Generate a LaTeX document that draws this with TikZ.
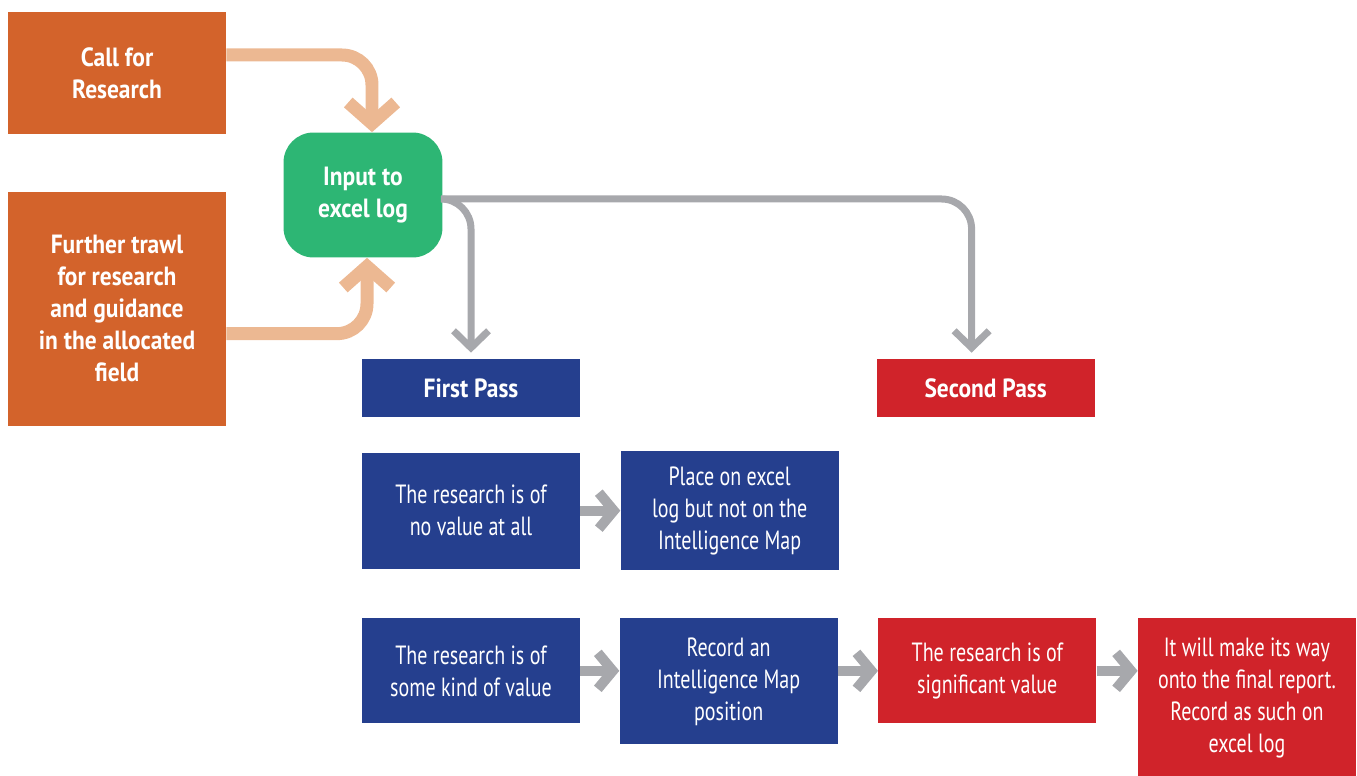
\documentclass[tikz,border=0pt]{standalone}
\usepackage{fontspec}
\setmainfont{PT Sans}[FakeStretch=0.89]
\newfontfamily\condfont{PT Sans}[FakeStretch=0.76]
\usepackage{tikz}
\usetikzlibrary{positioning, arrows.meta}

\definecolor{orangebox}{HTML}{D3632B}
\definecolor{orangeline}{HTML}{ECB892}
\definecolor{greenbox}{HTML}{2DB674}
\definecolor{bluebox}{HTML}{253F8E}
\definecolor{redbox}{HTML}{D0232A}
\definecolor{greyline}{HTML}{A7A8AC}

\begin{document}
\begin{tikzpicture}[
        x=0.02cm, y=-0.02cm,
        every node/.style={text=white},
        box/.style={
            rectangle,
            minimum width=4.36cm,
            inner sep=2pt,
            align=center,
            font=\fontsize{15}{18.2}\condfont
        },
        source/.style={box, fill=orangebox, font=\fontsize{15}{18.2}\selectfont\bfseries},
        pass/.style={box, minimum height=1.16cm, font=\fontsize{15}{18.2}\selectfont\bfseries},
        feed/.style={orangeline, line width=0.26cm, rounded corners=0.6cm,
            -{Straight Barb[length=0.42cm, width=0.95cm]}},
        route/.style={greyline, line width=0.14cm, rounded corners=0.6cm,
            -{Straight Barb[length=0.34cm, width=0.7cm]}},
        arrow/.style={greyline, line width=0.2cm,
            -{Straight Barb[length=0.3cm, width=0.72cm]}}
    ]

        \useasboundingbox (0,0) rectangle (1357,776);

        \node[source, minimum height=2.44cm] (call) at (117,73) {Call for\\ Research};

        \node[source, minimum height=4.68cm, below=1.14cm of call] (trawl)
            {Further trawl\\ for research\\ and guidance\\ in the allocated\\ field};

        \node[box, minimum width=3.18cm, minimum height=2.5cm, fill=greenbox,
            rounded corners=0.6cm, font=\fontsize{15}{18.2}\selectfont\bfseries]
            (input) at (363,195) {Input to\\ excel log};

        \node[pass, fill=bluebox] (first) at (471,388) {First Pass};
        \node[pass, fill=redbox, right=5.92cm of first] (second) {Second Pass};

        \node[box, fill=bluebox, minimum height=2.32cm, below=0.7cm of first] (noval)
            {The research is of\\ no value at all};
        \node[box, fill=bluebox, minimum height=2.38cm, right=0.8cm of noval] (place)
            {Place on excel\\ log but not on the\\ Intelligence Map};

        \node[box, fill=bluebox, minimum height=2.1cm, below=0.98cm of noval] (someval)
            {The research is of\\ some kind of value};
        \node[box, fill=bluebox, minimum height=2.52cm,
            right=0.78cm of someval.north east, anchor=north west] (record)
            {Record an\\ Intelligence Map\\ position};
        \node[box, fill=redbox, minimum height=2.1cm,
            right=0.8cm of record.north east, anchor=north west] (signif)
            {The research is of\\ significant value};
        \node[box, fill=redbox, minimum height=3.18cm,
            right=0.82cm of signif.north east, anchor=north west] (final)
            {It will make its way\\ onto the final report.\\ Record as such on\\ excel log};

        % feeds into the log
        \draw[feed] ([yshift=0.36cm]call.east) -| ([xshift=0.18cm]input.north);
        \draw[feed] ([yshift=-0.5cm]trawl.east) -| ([xshift=0.08cm]input.south);

        % log to the two passes
        \draw[route] ([yshift=-0.08cm]input.east) -| ([yshift=0.12cm]first.north);
        \draw[route] ([yshift=-0.08cm]input.east) -| ([xshift=-0.28cm, yshift=0.12cm]second.north);

        \draw[arrow] (noval) -- (place);
        \draw[arrow] (someval.east) -- (someval.east -| record.west);
        \draw[arrow] (signif.west -| record.east) -- (signif.west);
        \draw[arrow] (signif.east) -- (signif.east -| final.west);

    \end{tikzpicture}
\end{document}
